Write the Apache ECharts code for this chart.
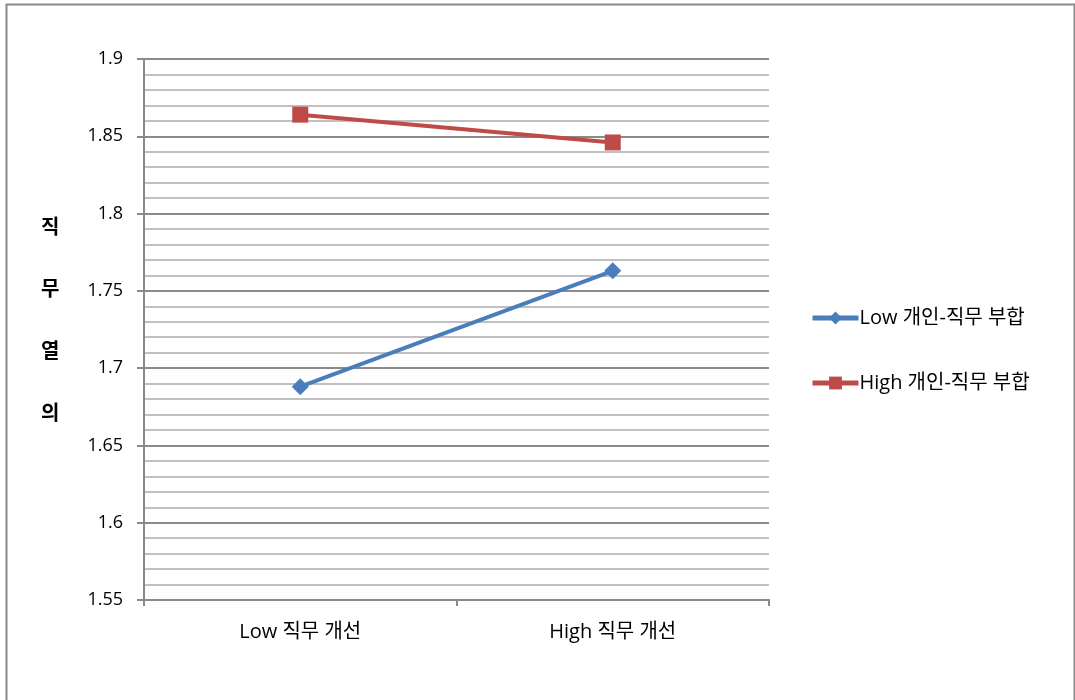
<!DOCTYPE html>
<html>
<head>
<meta charset="utf-8">
<script src="https://cdn.jsdelivr.net/npm/echarts@6/dist/echarts.min.js"></script>
<style>
  html, body { margin: 0; padding: 0; background: #fff; }
  #chart { width: 1075px; height: 700px; }
</style>
</head>
<body>
<div id="chart"></div>
<script>
// Job improvement levels on the x axis
const categories = ['Low 직무 개선', 'High 직무 개선'];
// Series: person-job fit groups
const seriesNames = ['Low 개인-직무 부합', 'High 개인-직무 부합'];
const lowFit = [1.688, 1.763];
const highFit = [1.864, 1.846];
// Vertical axis title, one character per line
const yTitleChars = ['직', '무', '열', '의'];

const latin = '"Open Sans", "Noto Sans CJK KR", sans-serif';
const gridGray = '#8a8a8a';
const blue = '#4a7ebb';
const red = '#be4b48';

const chart = echarts.init(document.getElementById('chart'), null, { renderer: 'canvas' });

const titleGraphics = yTitleChars.map((ch, i) => ({
  type: 'text',
  left: 41,
  top: 216 + i * 62,
  style: {
    text: ch,
    font: 'bold 20px "Noto Sans CJK KR", sans-serif',
    fill: '#000'
  }
}));

chart.setOption({
  animation: false,
  backgroundColor: '#fff',
  grid: { left: 144, top: 59, right: 306, bottom: 100, containLabel: false },
  legend: {
    orient: 'vertical',
    left: 810,
    top: 308,
    padding: 0,
    itemGap: 45,
    itemWidth: 46,
    itemHeight: 16,
    textStyle: { fontFamily: latin, fontSize: 20, color: '#000', padding: [0, 0, 0, -4] },
    data: [
      { name: seriesNames[0], lineStyle: { width: 5 } },
      { name: seriesNames[1], lineStyle: { width: 5 } }
    ]
  },
  xAxis: {
    type: 'category',
    data: categories,
    boundaryGap: true,
    axisLine: { lineStyle: { color: gridGray, width: 2 } },
    axisTick: { show: true, length: 6, lineStyle: { color: gridGray, width: 2 } },
    axisLabel: { color: '#000', fontFamily: latin, fontSize: 20, margin: 22 },
    splitLine: { show: false }
  },
  yAxis: {
    type: 'value',
    min: 1.55,
    max: 1.9,
    interval: 0.05,
    axisLine: { show: true, lineStyle: { color: gridGray, width: 2 } },
    axisTick: { show: true, length: 7, lineStyle: { color: gridGray, width: 2 } },
    axisLabel: {
      color: '#000', fontFamily: latin, fontSize: 18, margin: 21,
      formatter: v => String(parseFloat(v.toFixed(2)))
    },
    splitLine: { show: true, lineStyle: { color: gridGray, width: 2 } },
    minorTick: { show: false, splitNumber: 5 },
    minorSplitLine: { show: true, lineStyle: { color: '#c0c0c0', width: 2 } }
  },
  series: [
    {
      name: seriesNames[0],
      type: 'line',
      data: lowFit,
      symbol: 'diamond',
      symbolSize: 17,
      lineStyle: { color: blue, width: 4 },
      itemStyle: { color: blue }
    },
    {
      name: seriesNames[1],
      type: 'line',
      data: highFit,
      symbol: 'rect',
      symbolSize: 16,
      lineStyle: { color: red, width: 4 },
      itemStyle: { color: red }
    }
  ],
  graphic: [
    {
      type: 'rect',
      left: 4,
      top: 2,
      shape: { width: 1068, height: 740 },
      style: { fill: 'none', stroke: '#898989', lineWidth: 2 },
      silent: true
    },
    ...titleGraphics
  ]
});
</script>
</body>
</html>
